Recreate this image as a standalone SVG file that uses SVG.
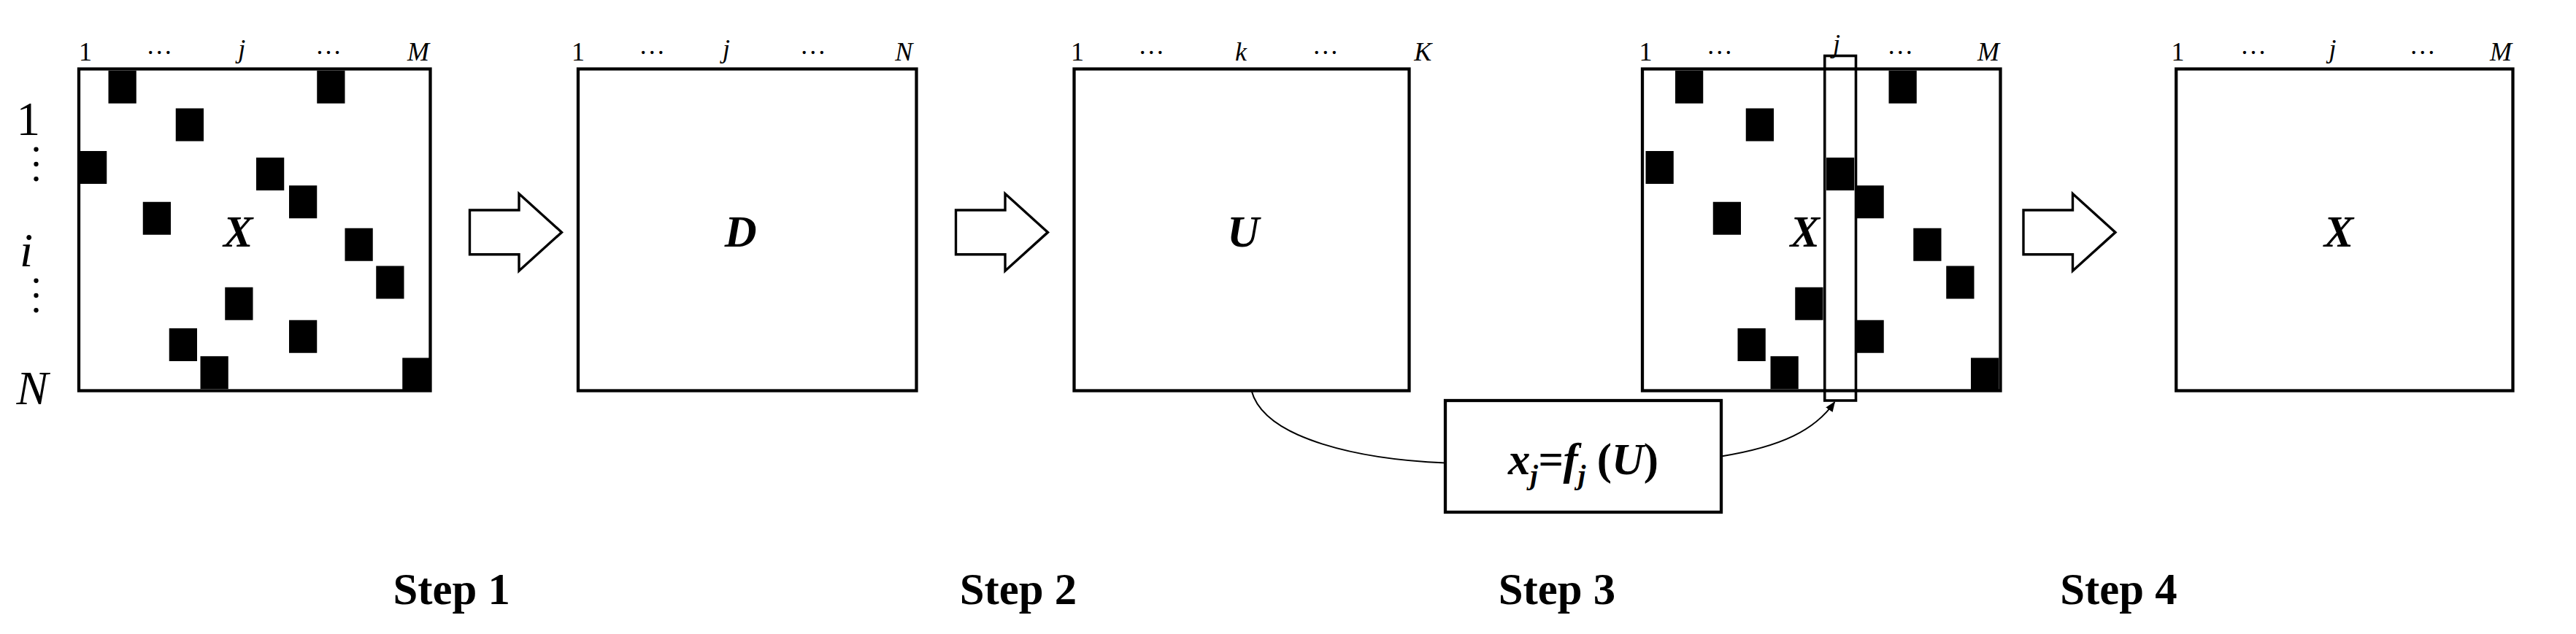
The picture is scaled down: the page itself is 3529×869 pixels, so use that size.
<svg xmlns="http://www.w3.org/2000/svg" width="3529" height="869" viewBox="0 0 3529 869">
<style>
.m{fill:#fff;stroke:#000;stroke-width:1.9}
.s{fill:#000}
.t{font-family:"Liberation Serif",serif;font-size:16px}
.i{font-style:italic}
.L{font-family:"Liberation Serif",serif;font-size:29px}
.B{font-family:"Liberation Serif",serif;font-size:27px;font-weight:bold;font-style:italic;text-anchor:middle}
.st{font-family:"Liberation Serif",serif;font-size:27px;font-weight:bold;text-anchor:middle}
.ar{fill:#fff;stroke:#000;stroke-width:1.5}
</style>
<defs>
<marker id="ah" viewBox="0 0 10 10" refX="9" refY="5" markerWidth="7" markerHeight="7" orient="auto"><path d="M0,1 L10,5 L0,9 z" fill="#000"/></marker>
<g id="sq"><rect width="17" height="20" class="s"/></g>
<g id="vd"><circle cx="0" cy="0" r="1.4"/><circle cx="0" cy="9" r="1.4"/><circle cx="0" cy="18" r="1.4"/></g>
</defs>
<rect width="3529" height="869" fill="#fff"/>
<g transform="scale(2.25)">
<g id="m1">
<rect x="48" y="42" width="214" height="196" class="m"/>
<use href="#sq" x="66" y="43"/><use href="#sq" x="107" y="66"/><use href="#sq" x="193" y="43"/><use href="#sq" x="48" y="92"/><use href="#sq" x="156" y="96"/><use href="#sq" x="176" y="113"/><use href="#sq" x="87" y="123"/><use href="#sq" x="210" y="139"/><use href="#sq" x="229" y="162"/><use href="#sq" x="137" y="175"/><use href="#sq" x="176" y="195"/><use href="#sq" x="103" y="200"/><use href="#sq" x="122" y="217"/><use href="#sq" x="245" y="218"/>
<text class="t" x="48" y="37">1</text><text class="t" x="89" y="33">…</text><text class="t i" x="145" y="35">j</text><text class="t" x="192" y="33">…</text><text class="t i" x="248" y="37">M</text>
<text class="L" x="10" y="82">1</text><use href="#vd" x="22" y="91"/><text class="L i" x="12" y="162">i</text><use href="#vd" x="22" y="171"/><text class="L i" x="10" y="246">N</text>
<text class="B" x="145" y="150">X</text>
</g>
<g id="m2">
<rect x="352" y="42" width="206" height="196" class="m"/>
<text class="t" x="348" y="37">1</text><text class="t" x="389" y="33">…</text><text class="t i" x="440" y="35">j</text><text class="t" x="487" y="33">…</text><text class="t i" x="545" y="37">N</text>
<text class="B" x="451" y="150">D</text>
</g>
<g id="m3">
<rect x="654" y="42" width="204" height="196" class="m"/>
<text class="t" x="652" y="37">1</text><text class="t" x="693" y="33">…</text><text class="t i" x="752" y="37">k</text><text class="t" x="799" y="33">…</text><text class="t i" x="861" y="37">K</text>
<text class="B" x="757" y="150">U</text>
</g>
<g id="m4">
<rect x="1000" y="42" width="218" height="196" class="m"/>
<use href="#sq" x="1020" y="43"/><use href="#sq" x="1063" y="66"/><use href="#sq" x="1150" y="43"/><use href="#sq" x="1002" y="92"/><use href="#sq" x="1112" y="96"/><use href="#sq" x="1130" y="113"/><use href="#sq" x="1043" y="123"/><use href="#sq" x="1165" y="139"/><use href="#sq" x="1185" y="162"/><use href="#sq" x="1093" y="175"/><use href="#sq" x="1130" y="195"/><use href="#sq" x="1058" y="200"/><use href="#sq" x="1078" y="217"/><use href="#sq" x="1200" y="218"/>
<rect x="1111" y="34" width="19" height="210" fill="none" stroke="#000" stroke-width="1.6"/>
<text class="t" x="998" y="37">1</text><text class="t" x="1039" y="33">…</text><text class="t i" x="1116" y="32">j</text><text class="t" x="1149" y="33">…</text><text class="t i" x="1204" y="37">M</text>
<text class="B" x="1099" y="150">X</text>
</g>
<g id="m5">
<rect x="1325" y="42" width="205" height="196" class="m"/>
<text class="t" x="1322" y="37">1</text><text class="t" x="1364" y="33">…</text><text class="t i" x="1418" y="35">j</text><text class="t" x="1467" y="33">…</text><text class="t i" x="1516" y="37">M</text>
<text class="B" x="1424" y="150">X</text>
</g>
<g id="fbox">
<rect x="880" y="244" width="168" height="68" class="m"/>
<text font-family="Liberation Serif,serif" font-size="27" font-weight="bold" font-style="italic" x="964" y="289" text-anchor="middle">x<tspan font-size="17" dy="6">j</tspan><tspan dy="-6">=f</tspan><tspan font-size="17" dy="6">j</tspan><tspan dy="-6" font-style="normal"> (</tspan>U<tspan font-style="normal">)</tspan></text>
</g>
<g id="connectors">
<path class="ar" d="M286,128 H316 V118 L342,141.5 L316,165 V155 H286 Z"/>
<path class="ar" d="M582,128 H612 V118 L638,141.5 L612,165 V155 H582 Z"/>
<path class="ar" d="M1232,128 H1262 V118 L1288,141.5 L1262,165 V155 H1232 Z"/>
<path d="M762,238 C770,268 830,280 880,282" fill="none" stroke="#000" stroke-width="0.9"/>
<path d="M1048,278 C1085,272 1105,262 1117,245" fill="none" stroke="#000" stroke-width="0.9" marker-end="url(#ah)"/>
</g>
<g id="steps">
<text class="st" x="275" y="368">Step 1</text><text class="st" x="620" y="368">Step 2</text><text class="st" x="948" y="368">Step 3</text><text class="st" x="1290" y="368">Step 4</text>
</g>
</g>
</svg>
